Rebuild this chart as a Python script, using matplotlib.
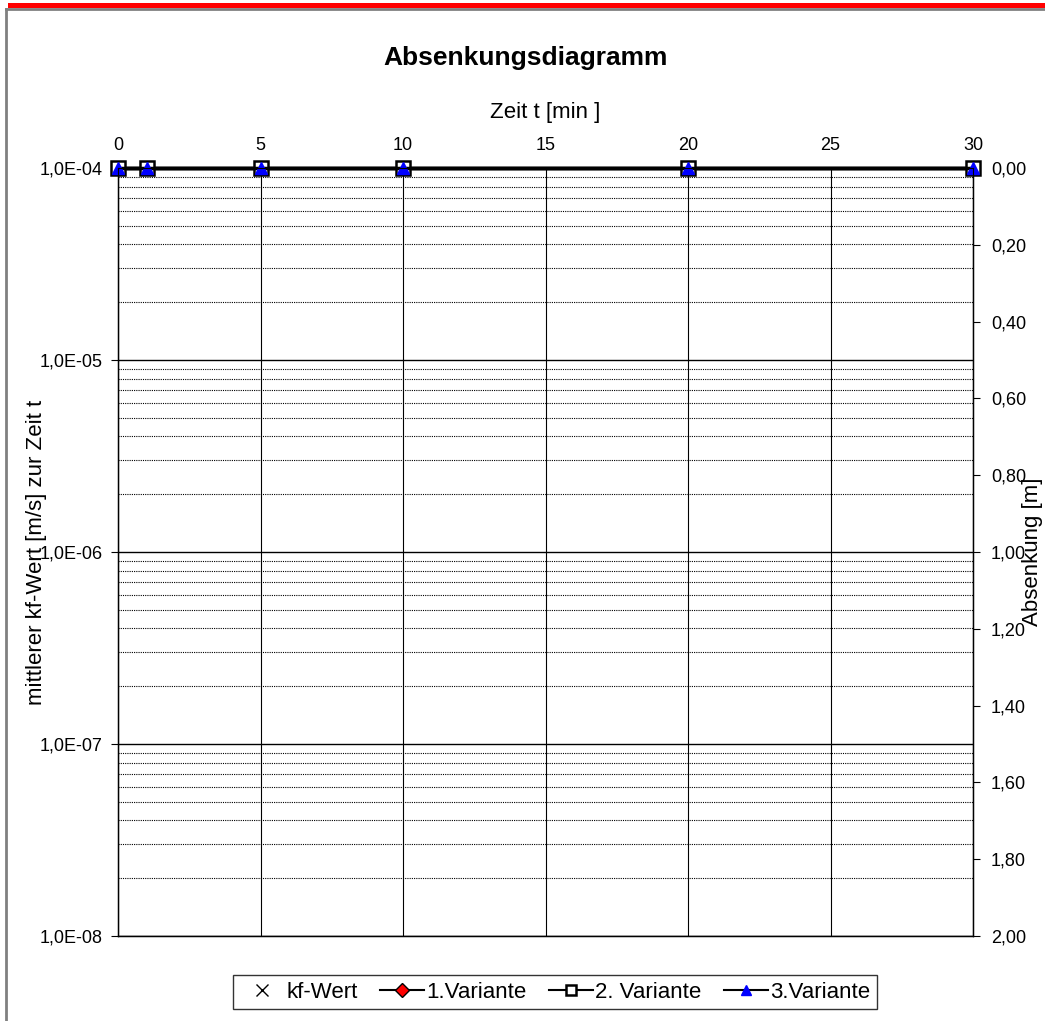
#!/usr/bin/env python

import numpy as np
import matplotlib.pyplot as plt
from matplotlib.ticker import FixedLocator, FuncFormatter, LogLocator, NullFormatter
from matplotlib.patches import Rectangle
from matplotlib.lines import Line2D

plt.rcParams['font.family'] = ['Liberation Sans', 'DejaVu Sans']

# data
zeit = [0, 1, 5, 10, 20, 30]
kf_wert = []            # no kf values shown
variante1 = [0.0, 0.0, 0.0, 0.0, 0.0, 0.0]
variante2 = [0.0, 0.0, 0.0, 0.0, 0.0, 0.0]
variante3 = [0.0, 0.0, 0.0, 0.0, 0.0, 0.0]
kf_ticks = [1e-8, 1e-7, 1e-6, 1e-5, 1e-4]
abs_ticks = [0.0, 0.2, 0.4, 0.6, 0.8, 1.0, 1.2, 1.4, 1.6, 1.8, 2.0]

W, H = 1045, 1021
fig = plt.figure(figsize=(W / 100, H / 100), dpi=100)

# red banner and chart border
fig.patches.append(Rectangle((8 / W, 1 - 8 / H), 1, 5 / H, transform=fig.transFigure,
                             facecolor='red', edgecolor='none'))
fig.lines.append(Line2D([6 / W, 6 / W], [0, 1 - 9 / H], transform=fig.transFigure,
                        color='#808080', lw=2))
fig.lines.append(Line2D([6 / W, 1], [1 - 9 / H, 1 - 9 / H], transform=fig.transFigure,
                        color='#808080', lw=2))

fig.text(526 / W, 1 - 58 / H, 'Absenkungsdiagramm', fontsize=19, fontweight='bold',
         ha='center', va='center')

ax = fig.add_axes([118 / W, 85 / H, (973 - 118) / W, (936 - 168) / H])
ax.set_yscale('log')
ax.set_ylim(1e-8, 1e-4)
ax.set_xlim(0, 30)
ax.xaxis.tick_top()
ax.xaxis.set_label_position('top')
ax.set_xticks(range(0, 31, 5))
ax.yaxis.set_major_locator(FixedLocator(kf_ticks))
ax.yaxis.set_minor_locator(LogLocator(base=10, subs=np.arange(2, 10)))
ax.yaxis.set_minor_formatter(NullFormatter())
ax.yaxis.set_major_formatter(FuncFormatter(lambda v, p: ('%.1E' % v).replace('.', ',')))
ax.tick_params(axis='y', which='major', length=5, labelsize=13, pad=6)
ax.tick_params(axis='y', which='minor', length=0)
ax.tick_params(axis='x', length=0, labelsize=13, pad=10)
ax.grid(True, axis='x', color='black', lw=0.8)
ax.grid(True, axis='y', which='major', color='black', lw=1.0)
ax.grid(True, axis='y', which='minor', color='black', lw=0.8, ls=(0, (1, 1)))
ax.set_xlabel('Zeit t [min ]', fontsize=16, labelpad=14)
ax.set_ylabel('mittlerer kf-Wert [m/s] zur Zeit t', fontsize=16)
ax.yaxis.set_label_coords(-0.083, 0.5)
for s in ax.spines.values():
    s.set_linewidth(1.0)

l0, = ax.plot(kf_wert, kf_wert, 'x', color='black', markersize=8, label='kf-Wert')

ax2 = ax.twinx()
ax2.set_ylim(2.0, 0.0)
ax2.yaxis.set_major_locator(FixedLocator(abs_ticks))
ax2.yaxis.set_major_formatter(FuncFormatter(lambda v, p: ('%.2f' % v).replace('.', ',')))
ax2.tick_params(axis='y', length=5, labelsize=13, pad=8)
ax2.set_ylabel('Absenkung [m]', fontsize=16)
ax2.yaxis.set_label_coords(1.057, 0.5)

l1, = ax2.plot(zeit, variante1, '-D', color='black', markerfacecolor='red',
               markeredgecolor='black', markersize=6, lw=2.5, clip_on=False,
               label='1.Variante')
l2, = ax2.plot(zeit, variante2, '-s', color='black', markerfacecolor='white',
               markeredgecolor='black', markeredgewidth=1.8, markersize=10, lw=2.5,
               clip_on=False, label='2. Variante')
l3, = ax2.plot(zeit, variante3, '-^', color='black', markerfacecolor='blue',
               markeredgecolor='blue', markersize=8, lw=2.5, clip_on=False,
               label='3.Variante')

leg = fig.legend(handles=[l0, l1, l2, l3], loc='center', ncol=4,
                 bbox_to_anchor=(555 / W, 1 - 992 / H), fontsize=16,
                 frameon=True, fancybox=False, edgecolor='black',
                 handlelength=2.0, columnspacing=1.0, handletextpad=0.1,
                 borderpad=0.3, borderaxespad=0)
leg.get_frame().set_linewidth(1.0)
for h in leg.legend_handles[1:]:
    h.set_linewidth(1.5)
    h.set_markersize(7)

fig.savefig('out.png', dpi=100)
